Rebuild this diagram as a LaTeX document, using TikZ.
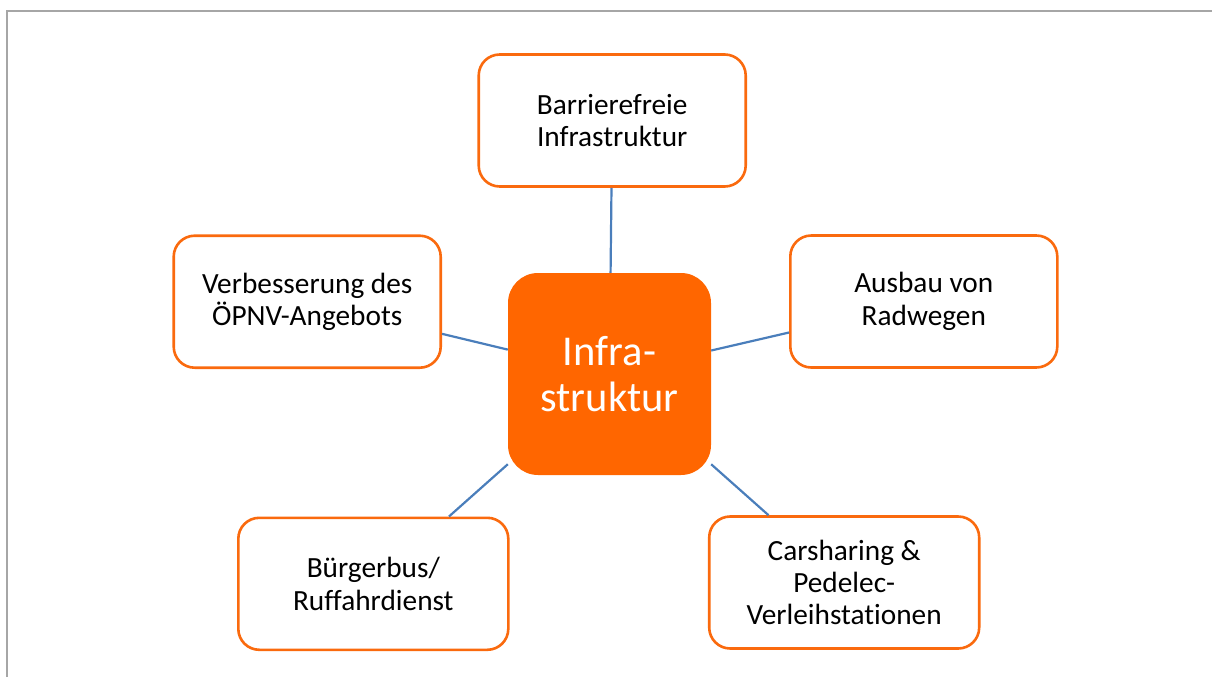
\documentclass[tikz,border=0pt]{standalone}
\usepackage{fontspec}
\setmainfont{Carlito}[Ligatures={NoCommon,NoRare}]
\definecolor{hub}{RGB}{255,102,0}
\definecolor{rim}{RGB}{250,106,14}
\definecolor{spoke}{RGB}{74,126,187}
\definecolor{frame}{RGB}{166,166,166}
\tikzset{
  hubbox/.style={rectangle, rounded corners=30pt, fill=hub, draw=none,
    minimum width=203pt, minimum height=202pt, inner sep=0pt, align=center,
    text=white, font=\fontsize{42.5}{46.7}\selectfont},
  leafbox/.style={rectangle, rounded corners=21pt, fill=white, draw=rim,
    line width=2.6pt, minimum width=267pt, minimum height=132pt, inner sep=0pt,
    align=center, font=\fontsize{29.3}{32.4}\selectfont},
  spokeline/.style={draw=spoke, line width=2.2pt}
}
\begin{document}
\begin{tikzpicture}[x=1pt, y=-1pt]
  \useasboundingbox (0,0) rectangle (1212,677);
  % page frame (top and left edges only)
  \draw[frame, line width=2pt] (7,677) -- (7,11) -- (1212,11);

  % centre and surrounding topics
  \node[hubbox] (c) at (609.5,374) {Infra-\\struktur};
  \node[leafbox] (t)  at (612.2,120.5) {Barrierefreie\\Infrastruktur};
  \node[leafbox] (l)  at (307.2,301.7) {Verbesserung des\\ÖPNV-Angebots};
  \node[leafbox] (r)  at (923.8,301.5) {Ausbau von\\Radwegen};
  \node[leafbox, minimum width=270pt] (bl) at (373.3,583.8) {Bürgerbus/\\Ruffahrdienst};
  \node[leafbox, minimum width=270pt] (br) at (844.2,582.5) {Carsharing \&\\Pedelec-\\Verleihstationen};

  % spokes
  \draw[spokeline] (c) -- (t);
  \draw[spokeline] (c) -- (l);
  \draw[spokeline] (c) -- (r);
  \draw[spokeline] (c) -- (bl);
  \draw[spokeline] (c) -- (br);
\end{tikzpicture}
\end{document}
